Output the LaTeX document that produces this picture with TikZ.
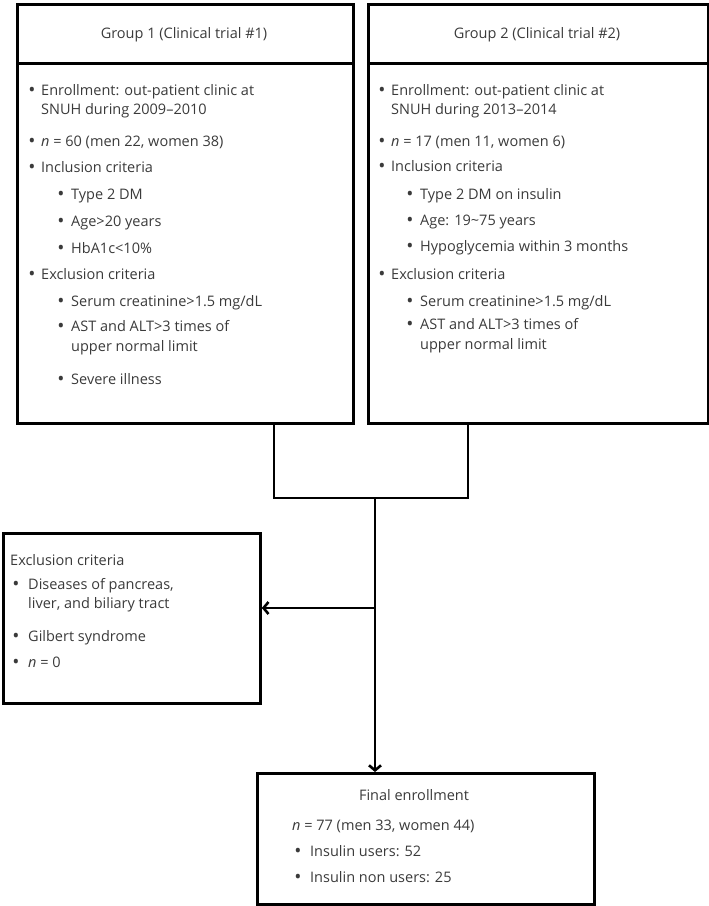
\documentclass[tikz,border=0pt]{standalone}
\usepackage{fontspec}
\setmainfont{Open Sans}
\usetikzlibrary{arrows.meta}
\definecolor{txtc}{HTML}{3A3A3A}
\tikzset{
  box/.style={draw=black, line width=2.8pt, anchor=north west, inner sep=0pt},
  conn/.style={draw=black, line width=2.8pt},
  arr/.style={conn, -{Straight Barb[length=5pt,width=12pt,line width=2.6pt]}},
  txt/.style={text=txtc, font=\fontsize{14.5}{19}\selectfont, inner sep=0pt, anchor=base west},
  bul/.style={text=txtc, font=\fontsize{19}{19}\selectfont, inner sep=0pt, anchor=base},
}
% name, bullet x, text x, centre y of line, text   (baseline = y+5)
\newcommand\bitem[5]{%
  \node[bul] (#1b) at (#2,#4+6.5) {•};
  \node[txt] (#1) at (#3,#4+5) {#5};
}
\newcommand\bline[4]{%
  \node[txt] (#1) at (#2,#3+5) {#4};
}
\begin{document}
\begin{tikzpicture}[x=1pt,y=-1pt]
\useasboundingbox (0,0) rectangle (709,906);
% Group 1
\node[box, minimum width=336pt, minimum height=59pt] (h1) at (16,3) {};
\node[box, minimum width=336pt, minimum height=360pt] (b1) at (16,62) {};
\node[txt, anchor=base] (h1t) at (184,38) {Group 1 (Clinical trial \#1)};
\bitem{a1}{32}{41}{90}{Enrollment: out-patient clinic at}
\bline{a1x}{41}{109}{SNUH during 2009–2010}
\bitem{a2}{32}{41}{141}{\textit{n} = 60 (men 22, women 38)}
\bitem{a3}{32}{41}{167}{Inclusion criteria}
\bitem{a4}{61}{71}{194}{Type 2 DM}
\bitem{a5}{61}{71}{221}{Age>20 years}
\bitem{a6}{61}{71}{248}{HbA1c<10\%}
\bitem{a7}{32}{41}{274}{Exclusion criteria}
\bitem{a8}{61}{71}{301}{Serum creatinine>1.5 mg/dL}
\bitem{a9}{61}{71}{326}{AST and ALT>3 times of}
\bline{a9x}{71}{346}{upper normal limit}
\bitem{a10}{61}{71}{379}{Severe illness}
% Group 2
\node[box, minimum width=340pt, minimum height=59pt] (h2) at (367,3) {};
\node[box, minimum width=340pt, minimum height=360pt] (b2) at (367,62) {};
\node[txt, anchor=base] (h2t) at (537,38) {Group 2 (Clinical trial \#2)};
\bitem{c1}{382}{391}{90}{Enrollment: out-patient clinic at}
\bline{c1x}{391}{109}{SNUH during 2013–2014}
\bitem{c2}{382}{391}{141}{\textit{n} = 17 (men 11, women 6)}
\bitem{c3}{382}{391}{166}{Inclusion criteria}
\bitem{c4}{410}{420}{194}{Type 2 DM on insulin}
\bitem{c5}{410}{420}{220}{Age: 19\textasciitilde 75 years}
\bitem{c6}{410}{420}{246}{Hypoglycemia within 3 months}
\bitem{c7}{382}{391}{274}{Exclusion criteria}
\bitem{c8}{410}{420}{301}{Serum creatinine>1.5 mg/dL}
\bitem{c9}{410}{420}{324}{AST and ALT>3 times of}
\bline{c9x}{420}{344}{upper normal limit}
% Exclusion box
\node[box, minimum width=257pt, minimum height=170pt] (ex) at (2,532) {};
\bline{ext}{10}{560}{Exclusion criteria}
\bitem{e1}{16}{28}{584}{Diseases of pancreas,}
\bline{e1x}{28}{603}{liver, and biliary tract}
\bitem{e2}{16}{28}{636}{Gilbert syndrome}
\bitem{e3}{16}{28}{662}{\textit{n} = 0}
% Final box
\node[box, minimum width=337pt, minimum height=131pt] (fin) at (256,772) {};
\node[txt, anchor=base] (fint) at (414,800) {Final enrollment};
\bline{f1}{292}{825}{\textit{n} = 77 (men 33, women 44)}
\bitem{f2}{298}{310}{851}{Insulin users: 52}
\bitem{f3}{298}{310}{877}{Insulin non users: 25}
% connectors
\coordinate (jl) at (274,498);
\coordinate (jr) at (468,498);
\coordinate (jm) at (375,498);
\coordinate (ja) at (375,608);
\draw[conn, line join=miter] (b1.south -| jl) -- (jl) -- (jr) -- (b2.south -| jr);
\draw[arr] (jm) -- (fin.north -| jm);
\draw[arr] (ja) -- (ex.east |- ja);
\end{tikzpicture}
\end{document}
